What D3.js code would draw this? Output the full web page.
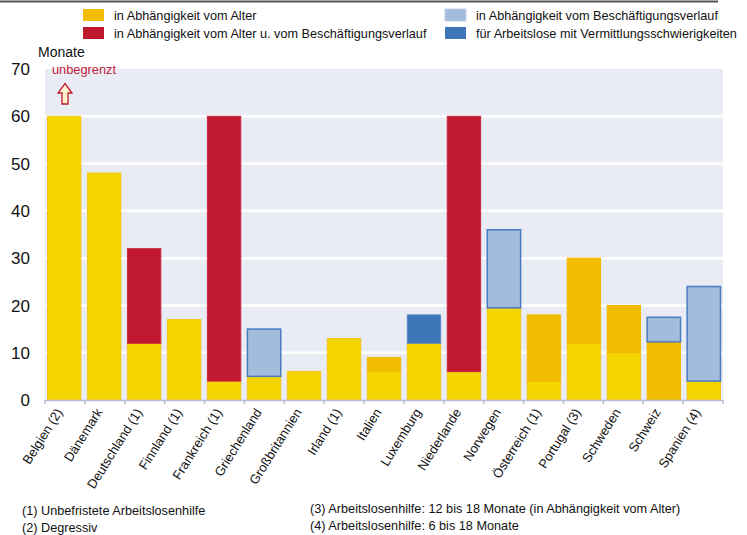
<!DOCTYPE html>
<html><head><meta charset="utf-8">
<script src="https://cdn.jsdelivr.net/npm/d3@7"></script>
<style>body{margin:0;background:#fff}svg{display:block;font-family:"Liberation Sans",Arial,sans-serif}</style>
</head><body>
<svg id="c" width="747" height="535"></svg>
<script>
const categories = ["Belgien (2)","Dänemark","Deutschland (1)","Finnland (1)","Frankreich (1)","Griechenland","Großbritannien","Irland (1)","Italien","Luxemburg","Niederlande","Norwegen","Österreich (1)","Portugal (3)","Schweden","Schweiz","Spanien (4)"];
// segment values (months)
const alterBase   = [60,48,12,17,4,5,6,13,6,12,6,19.5,4,12,10,0,4];
const alterExtra  = [0,0,0,0,0,0,0,0,3,0,0,0,14,18,10,12.3,0];
const alterBesch  = [0,0,20,0,56,0,0,0,0,0,54,0,0,0,0,0,0];
const besch       = [0,0,0,0,0,10,0,0,0,0,0,16.5,0,0,0,5.2,20];
const vermittl    = [0,0,0,0,0,0,0,0,0,6,0,0,0,0,0,0,0];
const yTicks = [0,10,20,30,40,50,60,70];
const legendLabels = ["in Abhängigkeit vom Alter","in Abhängigkeit vom Alter u. vom Beschäftigungsverlauf","in Abhängigkeit vom Beschäftigungsverlauf","für Arbeitslose mit Vermittlungsschwierigkeiten"];
const footnotes = ["(1) Unbefristete Arbeitslosenhilfe","(2) Degressiv","(3) Arbeitslosenhilfe: 12 bis 18 Monate (in Abhängigkeit vom Alter)","(4) Arbeitslosenhilfe: 6 bis 18 Monate"];

const seriesKeys = ["base","extra","ab","b","v"];
const seriesData = {base:alterBase, extra:alterExtra, ab:alterBesch, b:besch, v:vermittl};
const fills  = {base:"#F5D500", extra:"#F2BC00", ab:"#C0182F", b:"#A4BCDB", v:"#3F76BA"};
const strokes= {base:"#F2C418", extra:"#F0B800", ab:"#C8283F", b:"#4A7BC0", v:"#5C8ACB"};

const svg = d3.select("#c");
const x = d3.scaleBand().domain(categories).range([45,723]).paddingInner(0.14).paddingOuter(0.05);
const xEdge = d3.scaleBand().domain(categories).range([45,723]).padding(0);
const y = d3.scaleLinear().domain([0,70]).range([400,69]);

// top rule
svg.append("line").attr("x1",0).attr("x2",718).attr("y1",1.5).attr("y2",1.5).attr("stroke","#555").attr("stroke-width",2);

// plot bg
svg.append("rect").attr("x",45).attr("y",y(70)).attr("width",678).attr("height",y(0)-y(70)).attr("fill","#E9ECF4");
// grid
svg.append("g").selectAll("line").data(yTicks.filter(d=>d>0&&d<70)).join("line")
  .attr("x1",45).attr("x2",723).attr("y1",d=>y(d)).attr("y2",d=>y(d)).attr("stroke","#fff").attr("stroke-width",2.5);

// y axis labels
svg.append("g").selectAll("text").data(yTicks).join("text")
  .attr("x",30).attr("y",d=>y(d)).attr("dy","0.36em").attr("text-anchor","end")
  .attr("font-size",17).attr("fill","#111").text(d=>d);
svg.append("text").attr("x",38).attr("y",57).attr("font-size",14).attr("fill","#111").text("Monate");

// stacked data
const rows = categories.map((c,i)=>{const o={cat:c}; seriesKeys.forEach(k=>o[k]=seriesData[k][i]); return o;});
const stack = d3.stack().keys(seriesKeys)(rows);
stack.forEach(layer=>{
  svg.append("g").selectAll("rect").data(layer.filter(d=>d[1]-d[0]>0)).join("rect")
    .attr("x",d=>x(d.data.cat)+0.5).attr("width",x.bandwidth()-1)
    .attr("y",d=>y(d[1])).attr("height",d=>y(d[0])-y(d[1]))
    .attr("fill",fills[layer.key]).attr("stroke",strokes[layer.key])
    .attr("stroke-width",layer.key==="b"?1.5:1);
});

// x axis
svg.append("line").attr("x1",45).attr("x2",723).attr("y1",400.5).attr("y2",400.5).attr("stroke","#B4BCD4").attr("stroke-width",1.5);
const edges = categories.map(c=>xEdge(c)).concat([723]);
svg.append("g").selectAll("line").data(edges).join("line")
  .attr("x1",d=>d).attr("x2",d=>d).attr("y1",400).attr("y2",404).attr("stroke","#B4BCD4").attr("stroke-width",1.5);
svg.append("g").selectAll("text").data(categories).join("text")
  .attr("transform",c=>`translate(${xEdge(c)+xEdge.bandwidth()/2-2},412) rotate(-58)`)
  .attr("text-anchor","end").attr("font-size",13).attr("fill","#111").text(c=>c);

// unbegrenzt + arrow
const bx = x(categories[0]);
svg.append("text").attr("x",52).attr("y",74).attr("font-size",12.8).attr("fill","#C0203A").text("unbegrenzt");
const ax = bx + 18; // arrow center
const arrowPts = [[ax,83.5],[ax+7,93],[ax+3,93],[ax+3,104],[ax-3,104],[ax-3,93],[ax-7,93]];
svg.append("polygon").attr("points",arrowPts.map(p=>p.join(",")).join(" "))
  .attr("fill","#FFF4CC").attr("stroke","#C0182F").attr("stroke-width",1.3);

// legend
const legend = [
  {k:"extra",x:83,y:9,t:legendLabels[0]},
  {k:"ab",x:83,y:27,t:legendLabels[1]},
  {k:"b",x:445,y:9,t:legendLabels[2]},
  {k:"v",x:445,y:27,t:legendLabels[3]}];
const lg = svg.append("g").selectAll("g").data(legend).join("g");
lg.append("rect").attr("x",d=>d.x).attr("y",d=>d.y).attr("width",21).attr("height",12)
  .attr("fill",d=>fills[d.k]).attr("stroke",d=>d.k==="b"?"#C2D0E6":"none");
lg.append("text").attr("x",d=>d.x+31).attr("y",d=>d.y+11).attr("font-size",12.7).attr("fill","#111").text(d=>d.t);

// footnotes
const fpos=[[22,515],[22,532],[310,513],[310,530]];
svg.append("g").selectAll("text").data(footnotes).join("text")
  .attr("x",(d,i)=>fpos[i][0]).attr("y",(d,i)=>fpos[i][1]).attr("font-size",12.7).attr("fill","#111").text(d=>d);
</script>
</body></html>
